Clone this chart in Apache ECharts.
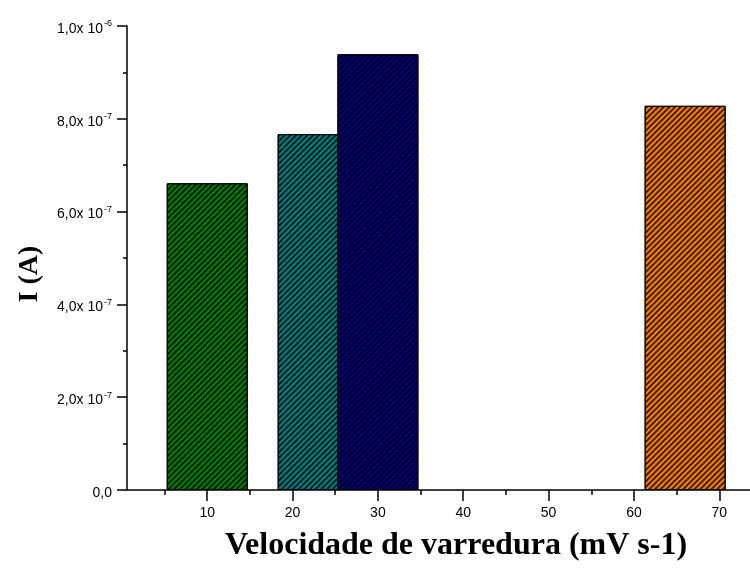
<!DOCTYPE html>
<html>
<head>
<meta charset="utf-8">
<script src="https://cdn.jsdelivr.net/npm/echarts@6/dist/echarts.min.js"></script>
<style>
html,body{margin:0;padding:0;background:#fff;}
#chart{width:750px;height:568px;}
</style>
</head>
<body>
<div id="chart"></div>
<script>
// ---- data ----
const scanRates = [10, 23, 30, 66];               // mV s-1 (bar centres)
const currents  = [6.61e-7, 7.67e-7, 9.39e-7, 8.28e-7]; // A
const barColors = ['#008000', '#008080', '#000080', '#ff8000'];
const xMajorTicks = [10, 20, 30, 40, 50, 60, 70];
const xMinorTicks = [5, 15, 25, 35, 45, 55, 65];
const yTickLabels = {0:'0,0', 2:'2,0x 10', 4:'4,0x 10', 6:'6,0x 10', 8:'8,0x 10', 10:'1,0x 10'};
const yTickExps   = {2:'-7', 4:'-7', 6:'-7', 8:'-7', 10:'-6'};

const chart = echarts.init(document.getElementById('chart'), null, {renderer:'canvas'});
const axisColor = '#000';
const lblFont = 'Liberation Sans';

const hatch = {
  symbol: 'rect',
  symbolSize: 1,
  dashArrayX: [[1, 0]],
  dashArrayY: [2, 2],
  rotation: -Math.PI / 4,
  color: 'rgba(0,0,0,0.75)'
};

const barData = scanRates.map((x, i) => ({
  value: [x, currents[i]],
  itemStyle: { color: barColors[i], borderColor: '#000', borderWidth: 1, decal: hatch }
}));

chart.setOption({
  animation: false,
  backgroundColor: '#fff',
  grid: { left: 127, right: 0, top: 26, bottom: 78, containLabel: false },
  xAxis: [{
    type: 'value', min: 0.6, max: 73.6,
    axisLine: { show: true, onZero: false, lineStyle: { color: axisColor, width: 1.5 } },
    axisTick: { show: true, customValues: xMajorTicks, length: 11, lineStyle: { color: axisColor, width: 1.5 } },
    axisLabel: { customValues: xMajorTicks, color: '#000', fontFamily: lblFont, fontSize: 14, margin: 16 },
    splitLine: { show: false }
  }, {
    type: 'value', min: 0.6, max: 73.6, position: 'bottom',
    axisLine: { show: false },
    axisTick: { show: true, customValues: xMinorTicks, length: 5, lineStyle: { color: axisColor, width: 1.5 } },
    axisLabel: { show: false },
    splitLine: { show: false }
  }],
  yAxis: {
    type: 'value', min: 0, max: 1e-6, interval: 2e-7,
    axisLine: { show: true, lineStyle: { color: axisColor, width: 1.5 } },
    axisTick: { show: true, length: 10, lineStyle: { color: axisColor, width: 1.5 } },
    minorTick: { show: true, splitNumber: 2, length: 4, lineStyle: { color: axisColor, width: 1.5 } },
    splitLine: { show: false },
    axisLabel: {
      margin: 15,
      formatter: function (v) {
        const k = Math.round(v * 1e7);
        if (k === 0) return '{m|' + yTickLabels[0] + '}';
        return '{m|' + yTickLabels[k] + '}{e|' + yTickExps[k] + '}';
      },
      rich: {
        m: { fontFamily: lblFont, fontSize: 14, color: '#000', padding: [6, 0, 0, 0] },
        e: { fontFamily: lblFont, fontSize: 9, color: '#000', padding: [0, 0, 4, 1] }
      }
    }
  },
  series: [{
    type: 'bar',
    xAxisIndex: 0,
    barWidth: 81,
    data: barData
  }],
  graphic: [{
    type: 'text', x: 456, y: 546,
    style: { text: 'Velocidade de varredura (mV s-1)', font: 'bold 32px "Liberation Serif"', fill: '#000', align: 'center', verticalAlign: 'middle' }
  }, {
    type: 'text', x: 30, y: 274, rotation: Math.PI / 2,
    style: { text: 'I (A)', font: 'bold 28px "Liberation Serif"', fill: '#000', align: 'center', verticalAlign: 'middle' }
  }]
});
</script>
</body>
</html>
